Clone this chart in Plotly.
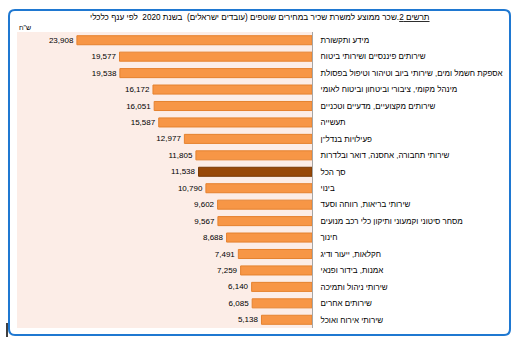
import plotly.graph_objects as go

categories = [
    "מידע ותקשורת",
    "שירותים פיננסיים ושירותי ביטוח",
    "אספקת חשמל ומים, שירותי ביוב וטיהור וטיפול בפסולת",
    "מינהל מקומי, ציבורי וביטחון וביטוח לאומי",
    "שירותים מקצועיים, מדעיים וטכניים",
    "תעשייה",
    "פעילויות בנדל\"ן",
    "שירותי תחבורה, אחסנה, דואר ובלדרות",
    "סך הכל",
    "בינוי",
    "שירותי בריאות, רווחה וסעד",
    "מסחר סיטוני וקמעוני ותיקון כלי רכב מנועים",
    "חינוך",
    "חקלאות, ייעור ודיג",
    "אמנות, בידור ופנאי",
    "שירותי ניהול ותמיכה",
    "שירותים אחרים",
    "שירותי אירוח ואוכל",
]
values = [23908, 19577, 19538, 16172, 16051, 15587, 12977, 11805, 11538,
          10790, 9602, 9567, 8688, 7491, 7259, 6140, 6085, 5138]
total_label = "סך הכל"

W, H = 525, 349
L, R, T, B = 17, 312, 32, 328

colors = ["#984807" if c == total_label else "#F79646" for c in categories]
lines = ["#7A3A05" if c == total_label else "#E5822F" for c in categories]

fig = go.Figure(go.Bar(
    x=values, y=categories, orientation="h",
    marker=dict(color=colors, line=dict(color=lines, width=1)),
    text=[f"{v:,}" for v in values], textposition="outside",
    textfont=dict(size=8, color="#000000", family="Liberation Sans, Arial"),
    cliponaxis=False,
))

def px2x(px):
    return (px - L) / (R - L)

def px2y(py):
    return (B - py) / (B - T)

# rounded border
x0, x1, y0, y1, r = 9, 510, 10, 335, 6
path = (f"M{px2x(x0+r):.5f},{px2y(y0):.5f} L{px2x(x1-r):.5f},{px2y(y0):.5f} "
        f"Q{px2x(x1):.5f},{px2y(y0):.5f} {px2x(x1):.5f},{px2y(y0+r):.5f} "
        f"L{px2x(x1):.5f},{px2y(y1-r):.5f} Q{px2x(x1):.5f},{px2y(y1):.5f} {px2x(x1-r):.5f},{px2y(y1):.5f} "
        f"L{px2x(x0+r):.5f},{px2y(y1):.5f} Q{px2x(x0):.5f},{px2y(y1):.5f} {px2x(x0):.5f},{px2y(y1-r):.5f} "
        f"L{px2x(x0):.5f},{px2y(y0+r):.5f} Q{px2x(x0):.5f},{px2y(y0):.5f} {px2x(x0+r):.5f},{px2y(y0):.5f} Z")

fig.update_layout(
    width=W, height=H,
    margin=dict(l=L, r=W - R, t=T, b=H - B),
    paper_bgcolor="white", plot_bgcolor="#FCEDE7",
    bargap=0.45, showlegend=False,
    font=dict(family="Liberation Sans, Arial", size=8, color="#000000"),
    xaxis=dict(range=[30000, 0], autorange=False, showgrid=False,
               zeroline=False, showticklabels=False, fixedrange=True),
    yaxis=dict(side="right", autorange="reversed", showline=True,
               linecolor="#A6A6A6", linewidth=1, ticks="", ticklabelstandoff=6,
               tickfont=dict(size=8, color="#000000"), showgrid=False),
    shapes=[
        dict(type="path", path=path, xref="paper", yref="paper",
             line=dict(color="#1F78D1", width=2), layer="above"),
        dict(type="line", xref="paper", yref="paper",
             x0=px2x(7), x1=px2x(7), y0=px2y(323), y1=px2y(337),
             line=dict(color="#000000", width=1.5)),
    ],
    annotations=[
        dict(text="<u>תרשים 2</u>.שכר ממוצע למשרת שכיר במחירים שוטפים (עובדים ישראלים)  בשנת 2020  לפי ענף כלכלי",
             xref="paper", yref="paper", x=px2x(260), y=px2y(17.5),
             showarrow=False, xanchor="center", yanchor="middle",
             font=dict(size=8.2, color="#000000")),
        dict(text="ש\"ח", xref="paper", yref="paper", x=px2x(17), y=px2y(28),
             showarrow=False, xanchor="left", yanchor="middle",
             font=dict(size=7, color="#000000")),
    ],
)

fig.write_html("out.html")
